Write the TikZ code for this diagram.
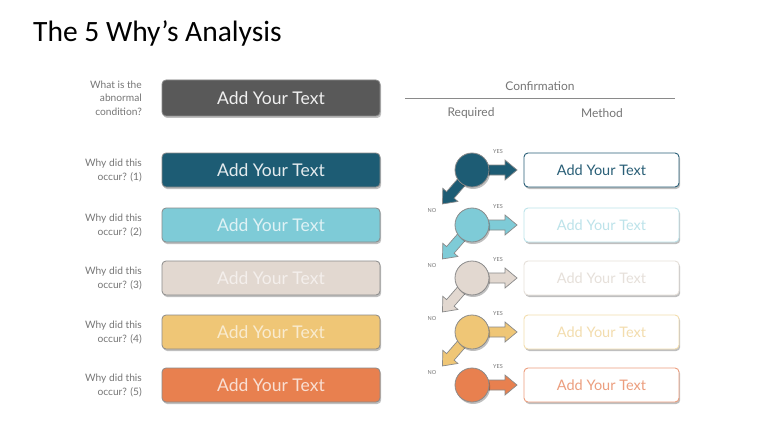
\documentclass[tikz,border=0pt]{standalone}
\usepackage{fontspec}
\setmainfont{Lato}
\newfontfamily\titlefont{Carlito}
\usetikzlibrary{shadows}
\definecolor{cg}{HTML}{595959}
\definecolor{c1}{HTML}{1D5C74}
\definecolor{c2}{HTML}{7ECBD7}
\definecolor{c3}{HTML}{E2D8D0}
\definecolor{c4}{HTML}{EFC676}
\definecolor{c5}{HTML}{E8804F}
\definecolor{t1}{HTML}{2A5F77}
\definecolor{t2}{HTML}{BDE3EA}
\definecolor{t3}{HTML}{E6E0DA}
\definecolor{t4}{HTML}{F3DDAE}
\definecolor{t5}{HTML}{EC9E7E}
\definecolor{lbl}{HTML}{767676}
\definecolor{edge}{HTML}{8A8A8A}
\tikzset{
  x=1pt, y=-1pt,
  shd/.style={drop shadow={shadow xshift=1.2pt, shadow yshift=-2pt, opacity=0.25, fill=black}},
  mainbox/.style={shd, rounded corners=4pt, minimum width=218pt, minimum height=34pt, draw=edge, line width=0.8pt, inner sep=0pt, font=\fontsize{17.5}{20}\selectfont},
  methbox/.style={shd, fill=white, rounded corners=4pt, minimum width=155pt, minimum height=34pt, line width=0.9pt, inner sep=0pt, font=\fontsize{14.5}{17}\selectfont},
  qlabel/.style={anchor=east, align=right, text=lbl, font=\fontsize{10.2}{14}\selectfont, inner sep=0pt},
  hdr/.style={text=lbl, font=\fontsize{12}{14}\selectfont, inner sep=0pt},
  yn/.style={text=lbl, font=\fontsize{5.5}{6}\selectfont, inner sep=0pt},
  ball/.style={circle, shd, minimum size=34pt, inner sep=0pt, draw=edge, line width=0.8pt},
  barrow/.pic={\path[pic actions] (14,-5) -- (33,-5) -- (33,-10) -- (45,0) -- (33,10) -- (33,5) -- (14,5) -- cycle;},
}
\begin{document}
\begin{tikzpicture}
\useasboundingbox (0,0) rectangle (768,425);
\fill[white] (0,0) rectangle (768,425);
\node[anchor=base west, inner sep=0pt, font=\titlefont\fontsize{29.5}{32}\selectfont] (title) at (33,42) {The 5 Why’s Analysis};

% header
\node[hdr] (conf) at (540,86) {Confirmation};
\coordinate (hl) at (405,98);
\coordinate (hr) at (675,98);
\draw[edge, line width=0.8pt] (hl) -- (hr);
\node[hdr] (req) at (471,113) {Required};
\node[hdr] (meth) at (602,113) {Method};

% row 0
\node[qlabel, font=\fontsize{10.2}{13.5}\selectfont] (q0) at (142,98) {What is the\\abnormal\\condition?};
\node[mainbox, fill=cg, text=white!88!gray, minimum height=36pt] (b0) at (271,98) {Add Your Text};

% rows 1-5
\foreach \i/\y/\tc in {1/170/white!88!c1, 2/225/white!75!c2, 3/278/white!60!c3, 4/332/white!65!c4, 5/385/white!75!c5}{
  \node[qlabel] (q\i) at (142,\y) {Why did this\\occur? (\i)};
  \node[mainbox, fill=c\i, text=\tc] (b\i) at (271,\y) {Add Your Text};
  \node[methbox, draw=t\i, text=t\i] (m\i) at (601.5,\y) {Add Your Text};
  \pic[fill=c\i, draw=edge, line width=0.7pt] at (472,\y) {barrow};
  \node[yn] (yes\i) at (498,\y-18) {YES};
}
\foreach \i/\y in {1/170,2/225,3/278,4/332}{
  \pic[fill=c\i, draw=edge, line width=0.7pt, rotate=229] at (472,\y) {barrow};
  \node[yn] (no\i) at (432,\y+41) {NO};
}
\foreach \i/\y in {1/170,2/225,3/278,4/332,5/385}{
  \node[ball, fill=c\i] (k\i) at (472,\y) {};
}
\end{tikzpicture}
\end{document}
